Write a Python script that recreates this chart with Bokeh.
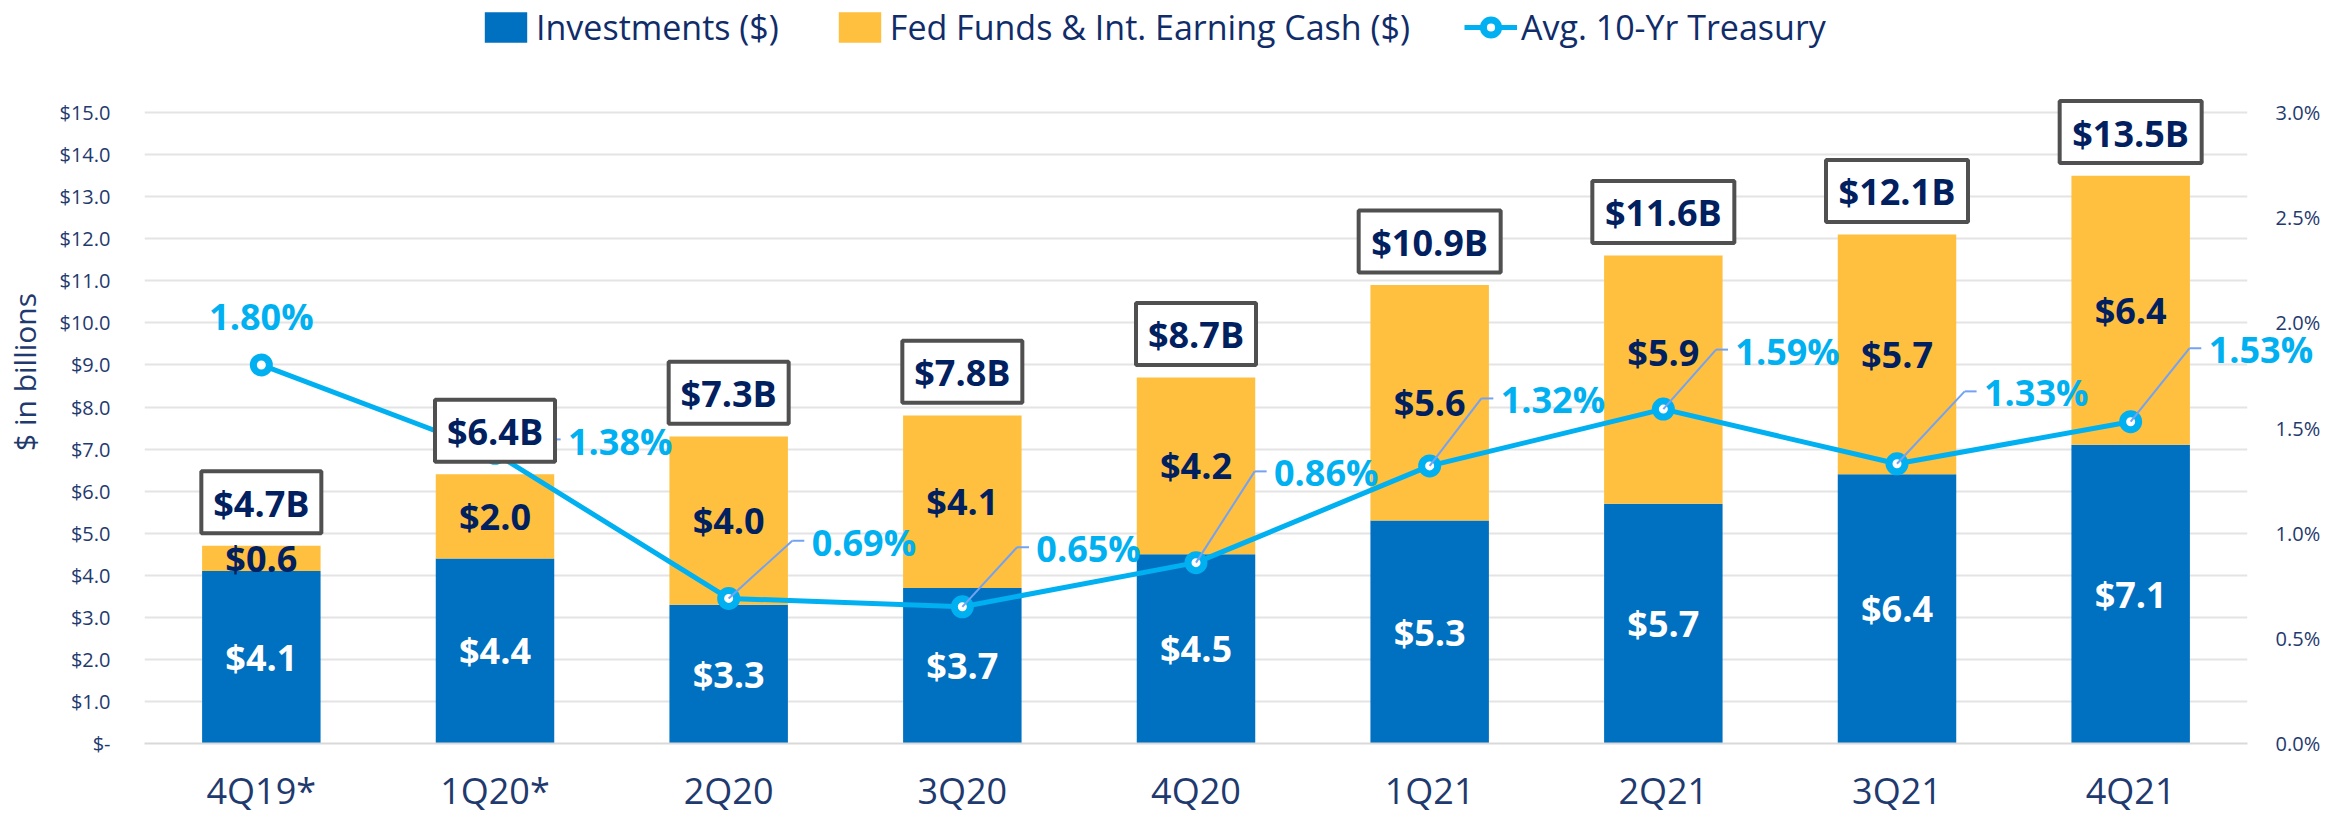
from bokeh.plotting import figure
from bokeh.models import (FactorRange, Range1d, LinearAxis, FixedTicker,
                          ColumnDataSource, Legend, LegendItem)
from bokeh.core.properties import value
from bokeh.embed import file_html
from bokeh.resources import INLINE

# ---------------- data ----------------
quarters = ["4Q19*", "1Q20*", "2Q20", "3Q20", "4Q20", "1Q21", "2Q21", "3Q21", "4Q21"]
investments = [4.1, 4.4, 3.3, 3.7, 4.5, 5.3, 5.7, 6.4, 7.1]
fed_funds = [0.6, 2.0, 4.0, 4.1, 4.2, 5.6, 5.9, 5.7, 6.4]
totals = [4.7, 6.4, 7.3, 7.8, 8.7, 10.9, 11.6, 12.1, 13.5]
treasury = [1.80, 1.38, 0.69, 0.65, 0.86, 1.32, 1.59, 1.33, 1.53]

left_ticks = list(range(0, 16))
left_tick_labels = ["$-", "$1.0", "$2.0", "$3.0", "$4.0", "$5.0", "$6.0", "$7.0",
                    "$8.0", "$9.0", "$10.0", "$11.0", "$12.0", "$13.0", "$14.0", "$15.0"]
right_ticks = [0.0, 0.5, 1.0, 1.5, 2.0, 2.5, 3.0]
right_tick_labels = ["0.0%", "0.5%", "1.0%", "1.5%", "2.0%", "2.5%", "3.0%"]

series_names = ["Investments ($)", "Fed Funds & Int. Earning Cash ($)", "Avg. 10-Yr Treasury"]

# ---------------- layout / style ----------------
W, H = 2341, 817
FL, FR, FT, FB = 133, 94, 0, 68
FRAME_W = W - FL - FR
FRAME_H = H - FT - FB          # frame reaches the top so the legend is inside it
AXIS_PX = 636                  # pixel height of the 0..15 scale
Y_MAX = 15 * FRAME_H / AXIS_PX
PCT_MAX = 3 * FRAME_H / AXIS_PX
PX_PER_CAT = FRAME_W / len(quarters)
PX_PER_UNIT = AXIS_PX / 15.0
PX_PER_PCT = AXIS_PX / 3.0

BLUE = "#0070C0"
GOLD = "#FFBF3F"
CYAN = "#00B0F0"
NAVY = "#002060"
AXIS_TXT = "#1F3A6E"
LEADER = "#74A2F2"
BOX_LINE = "#505050"
FONT = "Open Sans"

BOX_H = 62        # px
BOX_GAP = 13      # px between bar top and box bottom

# per-label placement of the % labels (screen px): left offset & vertical offset
pct_dx = [0, 73, 83, 74, 78, 71, 72, 87, 78]
pct_dy = [-48, -12, -56, -58, -90, -66, -58, -71, -72]
pct_align = ["center"] + ["left"] * 8
fed_nudge = [0, 0, 0, 0, 0, 0, -27, 0, 0]

# ---------------- sources ----------------
tot_lbl = ["$%.1fB" % v for v in totals]
src = ColumnDataSource(dict(
    q=quarters, inv=investments, fed=fed_funds, tot=totals, t=treasury,
    inv_mid=[v / 2 for v in investments],
    fed_mid=[i + f / 2 for i, f in zip(investments, fed_funds)],
    inv_lbl=["$%.1f" % v for v in investments],
    fed_lbl=["$%.1f" % v for v in fed_funds],
    tot_lbl=tot_lbl,
    box_y=[v + (BOX_GAP + BOX_H / 2) / PX_PER_UNIT for v in totals],
    box_w=[22 * len(s) + 10 for s in tot_lbl],
    pct_lbl=["%.2f%%" % v for v in treasury],
    pct_dx=pct_dx, pct_dy=pct_dy, pct_align=pct_align, fed_nudge=fed_nudge,
))

# leader lines (synthetic categorical coordinates)
lx0, ly0, lx1, ly1, hx0, hx1 = [], [], [], [], [], []
ex = []
for i, (t, dx, dy) in enumerate(zip(treasury, pct_dx, pct_dy)):
    if i == 0:
        continue
    cx = i + 0.5
    elbow_x = cx + (dx - 19) / PX_PER_CAT
    end_x = cx + (dx - 7) / PX_PER_CAT
    elbow_y = t - (dy - 2) / PX_PER_PCT
    lx0.append(cx); ly0.append(t); lx1.append(elbow_x); ly1.append(elbow_y)
    hx0.append(elbow_x); hx1.append(end_x); ex.append(elbow_y)
lead_src = ColumnDataSource(dict(x0=lx0, y0=ly0, x1=lx1, y1=ly1))
hor_src = ColumnDataSource(dict(x0=hx0, y0=ex, x1=hx1, y1=ex))

# ---------------- figure ----------------
p = figure(width=W, height=H, x_range=FactorRange(*quarters), y_range=Range1d(0, Y_MAX),
           output_backend="svg", toolbar_location=None,
           min_border_left=FL, min_border_right=FR, min_border_top=FT, min_border_bottom=FB)
p.extra_y_ranges = {"pct": Range1d(0, PCT_MAX)}
p.outline_line_color = None
p.background_fill_color = "white"
p.border_fill_color = "white"

bars = p.vbar_stack(["inv", "fed"], x="q", width=0.507, color=[BLUE, GOLD],
                    line_color=None, source=src)

p.text(x="q", y="inv_mid", text="inv_lbl", source=src, text_align="center",
       text_baseline="middle", text_font=value(FONT), text_font_style="bold",
       text_font_size="36px", text_color="white", level="overlay")
p.text(x="q", y="fed_mid", text="fed_lbl", source=src, text_align="center",
       y_offset="fed_nudge",
       text_baseline="middle", text_font=value(FONT), text_font_style="bold",
       text_font_size="36px", text_color=NAVY, level="overlay")

line_r = p.line(x="q", y="t", source=src, y_range_name="pct", line_color=CYAN, line_width=5)
mark_r = p.scatter(x="q", y="t", source=src, y_range_name="pct", size=16,
                   fill_color="white", line_color=CYAN, line_width=7)

p.segment(x0="x0", y0="y0", x1="x1", y1="y1", source=lead_src, y_range_name="pct",
          line_color=LEADER, line_width=2)
p.segment(x0="x0", y0="y0", x1="x1", y1="y1", source=hor_src, y_range_name="pct",
          line_color=LEADER, line_width=2)

# total boxes
p.rect(x="q", y="box_y", width="box_w", height=BOX_H, width_units="screen",
       height_units="screen", source=src, fill_color="white", line_color=BOX_LINE,
       line_width=4, level="overlay")
p.text(x="q", y="box_y", text="tot_lbl", source=src, text_align="center",
       text_baseline="middle", y_offset=1, text_font=value(FONT),
       text_font_style="bold", text_font_size="36px", text_color=NAVY, level="overlay")

p.text(x="q", y="t", text="pct_lbl", source=src, y_range_name="pct",
       x_offset="pct_dx", y_offset="pct_dy", text_align="pct_align",
       text_baseline="middle", text_font=value(FONT), text_font_style="bold",
       text_font_size="36px", text_color=CYAN, level="overlay")

# ---------------- axes ----------------
yl = p.yaxis[0]
yl.ticker = FixedTicker(ticks=left_ticks)
yl.major_label_overrides = {t: l for t, l in zip(left_ticks, left_tick_labels)}
yl.axis_line_color = None
yl.major_tick_line_color = None
yl.minor_tick_line_color = None
yl.major_label_standoff = 28
yl.major_label_text_font = FONT
yl.major_label_text_font_size = "20px"
yl.major_label_text_color = AXIS_TXT
yl.axis_label = "$ in billions"
yl.axis_label_text_font = FONT
yl.axis_label_text_font_style = "normal"
yl.axis_label_text_font_size = "30px"
yl.axis_label_text_color = AXIS_TXT
yl.axis_label_standoff = 12

yr = LinearAxis(y_range_name="pct", ticker=FixedTicker(ticks=right_ticks))
yr.major_label_overrides = {t: l for t, l in zip(right_ticks, right_tick_labels)}
yr.axis_line_color = None
yr.major_tick_line_color = None
yr.minor_tick_line_color = None
yr.major_label_standoff = 22
yr.major_label_text_font = FONT
yr.major_label_text_font_size = "20px"
yr.major_label_text_color = AXIS_TXT
p.add_layout(yr, "right")

xa = p.xaxis[0]
xa.axis_line_color = "#D9D9D9"
xa.axis_line_width = 2
xa.major_tick_line_color = None
xa.minor_tick_line_color = None
xa.major_label_standoff = 16
xa.major_label_text_font = FONT
xa.major_label_text_font_size = "36px"
xa.major_label_text_color = AXIS_TXT

p.xgrid.grid_line_color = None
p.ygrid.ticker = FixedTicker(ticks=left_ticks)
p.ygrid.grid_line_color = "#E4E4E4"
p.ygrid.grid_line_width = 2

# ---------------- legend ----------------
legend = Legend(items=[
    LegendItem(label=series_names[0], renderers=[bars[0]]),
    LegendItem(label=series_names[1], renderers=[bars[1]]),
    LegendItem(label=series_names[2], renderers=[line_r, mark_r]),
], orientation="horizontal", location=(335, FRAME_H - 56), padding=0, margin=0,
    spacing=54, glyph_width=53, glyph_height=38, label_standoff=4,
    label_text_font=FONT, label_text_font_size="34px", label_text_color="#102D6A",
    border_line_color=None, background_fill_alpha=0)
p.add_layout(legend, "center")

open("out.html", "w").write(file_html(p, INLINE))
